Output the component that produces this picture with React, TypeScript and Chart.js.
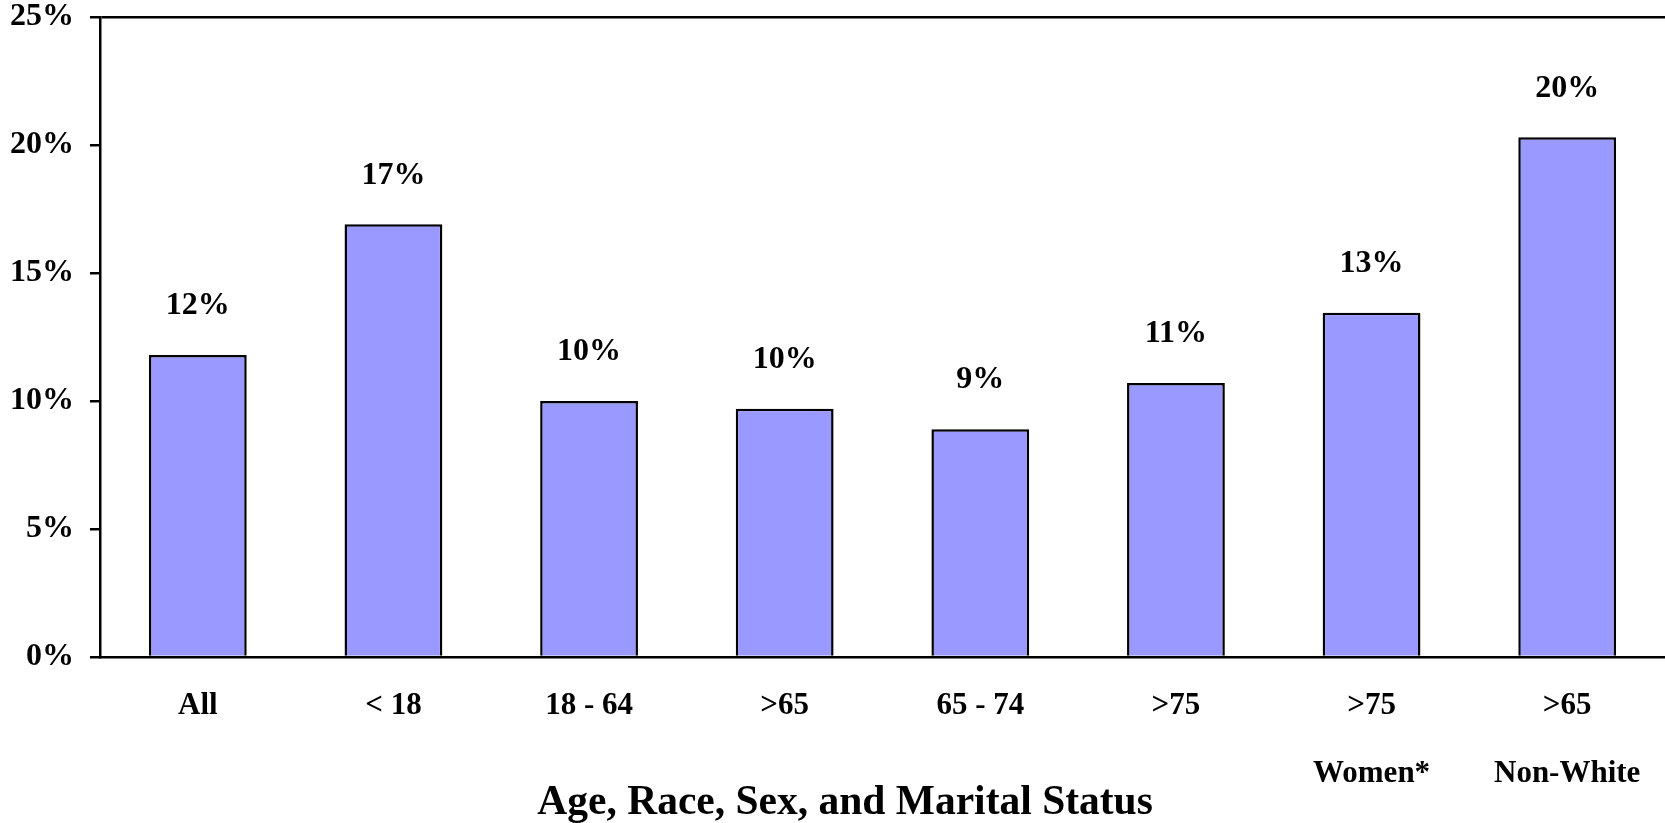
import React, { useEffect, useRef } from "react";
import { Chart, registerables } from "chart.js";

Chart.register(...registerables);

const categories: (string | string[])[] = [
  "All",
  "< 18",
  "18 - 64",
  ">65",
  "65 - 74",
  ">75",
  [">75", "Women*"],
  [">65", "Non-White"],
];
const values: number[] = [11.8, 16.9, 10.0, 9.7, 8.9, 10.7, 13.45, 20.3];
const yTicks: number[] = [0, 5, 10, 15, 20, 25];
const axisTitle = "Age, Race, Sex, and Marital Status";

const FONT = "'Liberation Serif', 'Times New Roman', serif";

const barLabels = {
  id: "barLabels",
  afterDatasetsDraw(chart: any) {
    const ctx = chart.ctx;
    const meta = chart.getDatasetMeta(0);
    ctx.save();
    ctx.fillStyle = "#000";
    ctx.font = `bold 32px ${FONT}`;
    ctx.textAlign = "center";
    ctx.textBaseline = "middle";
    meta.data.forEach((el: any, i: number) => {
      const v = chart.data.datasets[0].data[i] as number;
      ctx.fillText(Math.round(v) + "%", el.x, el.y - 49);
    });
    ctx.restore();
  },
};

export default function App() {
  const ref = useRef<HTMLCanvasElement>(null);
  useEffect(() => {
    if (!ref.current) return;
    const chart = new Chart(ref.current, {
      type: "bar",
      data: {
        labels: categories,
        datasets: [
          {
            data: values,
            backgroundColor: "#9999FF",
            borderColor: "#000",
            borderWidth: 2.5,
            barPercentage: 0.5,
            categoryPercentage: 1,
          },
        ],
      },
      plugins: [barLabels],
      options: {
        responsive: false,
        animation: false,
        layout: { padding: { left: -6, top: 17, right: 0, bottom: 0 } },
        plugins: {
          legend: { display: false },
          tooltip: { enabled: false },
          title: {
            display: true,
            position: "bottom",
            text: "\u00a0\u00a0\u00a0" + axisTitle,
            color: "#000",
            font: { family: FONT, size: 41.5, weight: "bold", lineHeight: 1.2 },
            padding: { top: -45, bottom: -4.8 },
          },
        },
        scales: {
          x: {
            grid: { display: false, drawTicks: false },
            border: { display: true, color: "#000", width: 2.5 },
            ticks: {
              color: "#000",
              padding: 15,
              maxRotation: 0,
              autoSkip: false,
              font: { family: FONT, size: 31, weight: "bold", lineHeight: 68 / 31 },
            },
          },
          y: {
            min: 0,
            max: 25,
            afterBuildTicks: (scale: any) => {
              scale.ticks = yTicks.map((v) => ({ value: v }));
            },
            grid: {
              drawOnChartArea: true,
              drawTicks: true,
              tickLength: 10,
              lineWidth: 2.5,
              tickColor: "#000",
              color: (c: any) => (c.tick && c.tick.value === 25 ? "#000" : "rgba(0,0,0,0)"),
            },
            border: { display: true, color: "#000", width: 2.5 },
            ticks: {
              color: "#000",
              padding: 16,
              callback: (v: any) => v + "%",
              font: { family: FONT, size: 32, weight: "bold", lineHeight: 0.05 },
            },
          },
        },
      },
    });
    return () => chart.destroy();
  }, []);
  return (
    <div style={{ position: "fixed", left: 0, top: 0, width: 1665, height: 823, background: "#fff" }}>
      <canvas ref={ref} width={1665} height={823} style={{ display: "block" }} />
    </div>
  );
}
